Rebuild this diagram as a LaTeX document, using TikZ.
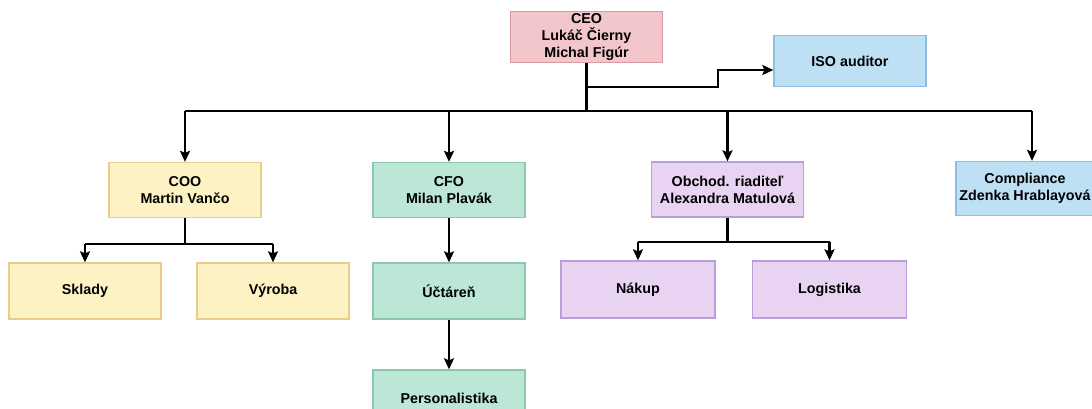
\documentclass[tikz,border=0pt]{standalone}
\usepackage{fontspec}
\setmainfont{Liberation Sans}
\usetikzlibrary{arrows.meta}
\definecolor{ceofill}{HTML}{F3C6CB}
\definecolor{ceodraw}{HTML}{D99AA0}
\definecolor{bluefill}{HTML}{BEE0F5}
\definecolor{bluedraw}{HTML}{8CBFE3}
\definecolor{yelfill}{HTML}{FDF2C4}
\definecolor{yeldraw}{HTML}{E9CB8A}
\definecolor{grnfill}{HTML}{BCE6D6}
\definecolor{grndraw}{HTML}{8CC7AE}
\definecolor{purfill}{HTML}{E8D4F2}
\definecolor{purdraw}{HTML}{B6A0D6}
\tikzset{
  box/.style={rectangle, line width=1.3pt, minimum width=152pt, minimum height=55pt,
    align=center, inner sep=0pt, font=\fontsize{14.3}{16.8}\selectfont\bfseries},
  ceobox/.style={box, fill=ceofill, draw=ceodraw, minimum height=51pt},
  bluebox/.style={box, fill=bluefill, draw=bluedraw},
  yelbox/.style={box, fill=yelfill, draw=yeldraw},
  grnbox/.style={box, fill=grnfill, draw=grndraw},
  purbox/.style={box, fill=purfill, draw=purdraw},
  conn/.style={line width=2.1pt, black},
  arr/.style={conn, -{Stealth[length=11pt,width=10pt,inset=2pt]}}
}
\begin{document}
\begin{tikzpicture}[x=1pt,y=-1pt]
\useasboundingbox[fill=white] (0,0) rectangle (1092,409);
% nodes
\node[ceobox] (ceo) at (586.5,37) {CEO\\Lukáč Čierny\\Michal Figúr};
\node[bluebox, minimum height=51pt] (iso) at (850,61) {ISO auditor};
\node[yelbox] (coo) at (185,190) {COO\\Martin Vančo};
\node[grnbox] (cfo) at (449,190) {CFO\\Milan Plavák};
\node[purbox] (obch) at (727.5,189.5) {Obchod. riaditeľ\\Alexandra Matulová};
\node[bluebox, minimum width=138pt, minimum height=54pt] (comp) at (1025,188.5) {Compliance\\Zdenka Hrablayová};
\node[yelbox, minimum height=56pt] (skl) at (85,291) {Sklady};
\node[yelbox, minimum height=56pt] (vyr) at (273,291) {Výroba};
\node[grnbox, minimum height=56pt] (uct) at (449,291) {Účtáreň};
\node[grnbox, minimum height=56pt] (pers) at (449,398) {Personalistika};
\node[purbox, minimum width=154pt, minimum height=57pt] (nak) at (638,289.5) {Nákup};
\node[purbox, minimum width=154pt, minimum height=57pt] (log) at (829.5,289.5) {Logistika};
% coordinates
\coordinate (bus) at (586.5,111);
\coordinate (isoj) at (586.5,87);
\coordinate (isok) at (718,87);
\coordinate (compbus) at (1032,111);
\coordinate (coobus) at (185,244);
\coordinate (obchbus) at (727.5,242);
% connectors
\draw[conn] (ceo.south) -- (bus);
\draw[arr] (isoj) -- (isok) |- ([yshift=-9pt]iso.west);
\draw[conn] (coo.north |- bus) -- (compbus);
\draw[arr] (coo.north |- bus) -- (coo.north);
\draw[arr] (cfo.north |- bus) -- (cfo.north);
\draw[arr] (obch.north |- bus) -- (obch.north);
\draw[arr] (compbus) -- (compbus |- comp.north);
\draw[conn] (coo.south) -- (coobus);
\draw[conn] (skl.north |- coobus) -- (vyr.north |- coobus);
\draw[arr] (skl.north |- coobus) -- (skl.north);
\draw[arr] (vyr.north |- coobus) -- (vyr.north);
\draw[arr] (cfo.south) -- (uct.north);
\draw[arr] (uct.south) -- (pers.north);
\draw[conn] (obch.south) -- (obchbus);
\draw[conn] (nak.north |- obchbus) -- (log.north |- obchbus);
\draw[arr] (nak.north |- obchbus) -- (nak.north);
\draw[arr] (log.north |- obchbus) -- (log.north);
\end{tikzpicture}
\end{document}
